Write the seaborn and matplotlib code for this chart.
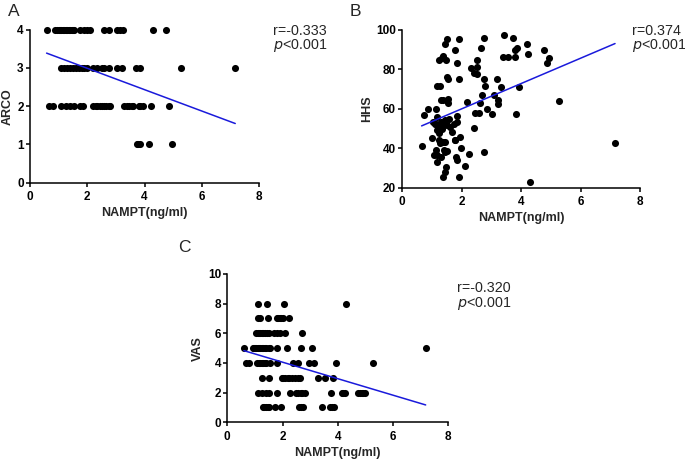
import numpy as np
import pandas as pd
import matplotlib
matplotlib.use("Agg")
import matplotlib.pyplot as plt
import seaborn as sns

# ---------------- data ----------------
# Panel A: ARCO grade vs NAMPT (x values grouped by ARCO row; overlapping dots included)
arco4_x = [0.58, 0.87, 0.95, 1.0, 1.05, 1.1, 1.15, 1.2, 1.25, 1.3, 1.35, 1.4, 1.45, 1.5, 1.55,
           1.75, 1.9, 2.0, 2.1, 2.6, 2.75, 3.03, 3.15, 3.26, 4.28, 4.74]
arco3_x = [1.1, 1.2, 1.3, 1.4, 1.5, 1.6, 1.7, 1.8, 1.9, 2.0, 2.2, 2.35, 2.5, 2.6, 2.75,
           3.05, 3.2, 3.72, 3.85, 5.28, 7.17]
arco2_x = [0.68, 0.82, 1.1, 1.25, 1.4, 1.55, 1.75, 1.85, 2.2, 2.3, 2.35, 2.45, 2.5, 2.6, 2.65,
           2.75, 2.8, 3.3, 3.4, 3.45, 3.55, 3.6, 3.8, 3.85, 3.95, 4.22, 4.87]
arco1_x = [3.73, 3.78, 3.85, 4.16, 4.95]

# Panel B: HHS vs NAMPT
hhs_x = [0.65, 0.74, 0.85, 1.01, 1.14, 1.16, 1.11, 1.18, 1.22, 1.32, 1.38, 1.47, 1.49, 1.44,
         1.27, 1.29, 1.36, 1.53, 1.53, 1.49, 1.53, 1.77, 1.83, 1.90, 1.92, 1.16, 1.18, 1.13,
         1.27, 1.38, 1.44, 1.47, 1.44, 1.36, 1.77, 1.85, 1.91, 1.96, 2.10, 2.26, 2.19, 2.30,
         2.42, 2.50, 2.53, 2.50, 2.42, 2.45, 2.58, 2.61, 2.67, 2.75, 2.64, 2.76, 2.80, 2.84,
         2.75, 3.03, 3.09, 3.18, 3.23, 3.23, 3.31, 3.42, 3.40, 3.57, 3.71, 3.78, 3.79, 3.85,
         3.83, 3.94, 4.19, 4.24, 4.30, 4.77, 4.88, 4.95, 5.27, 7.16,
         1.05, 1.13, 1.16, 1.20, 1.23, 1.29, 1.34, 1.40, 1.45, 1.51, 1.56, 1.62, 1.67, 1.73,
         1.23, 1.34, 1.45, 1.40, 1.49, 1.07, 1.29, 1.78, 1.95, 1.81, 1.85, 1.83]
hhs_y = [41.1, 56.9, 59.9, 45.4, 59.9, 56.0, 52.3, 71.6, 84.8, 85.6, 86.8, 84.8, 95.3, 92.7,
         71.6, 64.5, 64.5, 64.8, 62.8, 76.0, 75.1, 89.9, 83.1, 95.4, 75.1, 32.9, 36.6, 39.1,
         42.5, 43.3, 38.3, 30.7, 28.1, 25.6, 44.2, 34.0, 25.2, 40.3, 31.2, 36.9, 63.6, 80.9,
         78.4, 81.4, 84.8, 77.7, 50.1, 57.7, 58.0, 62.8, 67.0, 96.1, 90.7, 75.1, 71.8, 59.7,
         37.9, 57.4, 67.0, 75.1, 64.5, 62.5, 70.9, 97.5, 86.1, 86.1, 96.1, 86.5, 89.9, 91.0,
         57.4, 70.9, 92.7, 87.7, 22.7, 89.9, 83.1, 85.6, 64.0, 42.5,
         53.4, 52.5, 49.2, 51.7, 47.5, 53.4, 50.0, 51.7, 54.2, 51.7, 55.1, 50.8, 48.3, 52.5,
         44.1, 43.2, 43.2, 39.0, 38.5, 36.4, 35.6, 44.1, 45.8, 35.6, 56.5, 53.5]

# Panel C: VAS score vs NAMPT (x values grouped by VAS row; overlapping dots included)
vas8_x = [1.12, 1.42, 2.05, 4.28]
vas7_x = [1.1, 1.18, 1.48, 1.81, 1.85, 1.9, 1.95, 2.0, 2.23]
vas6_x = [1.05, 1.1, 1.15, 1.2, 1.25, 1.3, 1.35, 1.45, 1.5, 1.7, 1.8, 1.9, 2.1, 2.7]
vas5_x = [0.6, 0.92, 0.95, 1.0, 1.05, 1.1, 1.15, 1.2, 1.25, 1.3, 1.35, 1.4, 1.5, 1.55,
          1.81, 2.17, 2.65, 3.08, 7.18]
vas4_x = [0.68, 0.8, 1.09, 1.15, 1.2, 1.25, 1.3, 1.35, 1.4, 1.55, 1.81, 2.39, 2.57, 2.97,
          3.15, 3.92, 5.26]
vas3_x = [1.24, 1.52, 1.97, 2.0, 2.1, 2.2, 2.25, 2.35, 2.45, 2.55, 2.63, 3.27, 3.53, 3.81]
vas2_x = [1.12, 1.25, 1.4, 1.52, 1.81, 2.27, 2.48, 2.55, 2.65, 2.72, 2.81, 3.74, 4.14, 4.2,
          4.26, 4.74, 4.8, 4.86, 4.92, 4.98]
vas1_x = [1.28, 1.33, 1.4, 1.46, 1.52, 1.72, 1.94, 2.6, 2.65, 2.73, 3.41, 3.72, 3.78, 3.86]

x_ticks = [0, 2, 4, 6, 8]

# ---------------- build frames ----------------
def rows_to_df(rows, ycol):
    xs, ys = [], []
    for val, xl in rows:
        xs += xl
        ys += [val] * len(xl)
    return pd.DataFrame({"NAMPT": xs, ycol: ys})

df_a = rows_to_df([(4, arco4_x), (3, arco3_x), (2, arco2_x), (1, arco1_x)], "ARCO")
df_b = pd.DataFrame({"NAMPT": hhs_x, "HHS": hhs_y})
df_c = rows_to_df([(8, vas8_x), (7, vas7_x), (6, vas6_x), (5, vas5_x), (4, vas4_x),
                   (3, vas3_x), (2, vas2_x), (1, vas1_x)], "VAS")

# ---------------- style ----------------
sns.set_style("ticks")
plt.rcParams["font.family"] = ["Liberation Sans", "DejaVu Sans"]
plt.rcParams["axes.linewidth"] = 1.1
plt.rcParams["xtick.major.width"] = 1.1
plt.rcParams["ytick.major.width"] = 1.1
plt.rcParams["xtick.major.size"] = 3
plt.rcParams["ytick.major.size"] = 3
plt.rcParams["xtick.color"] = "black"
plt.rcParams["ytick.color"] = "black"
plt.rcParams["axes.edgecolor"] = "black"

W, H = 685, 459
fig = plt.figure(figsize=(W / 100, H / 100), dpi=100)

def px_axes(l, r, t, b):
    return fig.add_axes([l / W, 1 - b / H, (r - l) / W, (b - t) / H])

ax_a = px_axes(30, 259, 29.7, 182.7)
ax_b = px_axes(402.3, 640, 30, 187.7)
ax_c = px_axes(227.3, 448.3, 274, 422.3)

panels = [
    (ax_a, df_a, "ARCO", (0, 4), [0, 1, 2, 3, 4]),
    (ax_b, df_b, "HHS", (20, 100), [20, 40, 60, 80, 100]),
    (ax_c, df_c, "VAS", (0, 10), [0, 2, 4, 6, 8, 10]),
]

for ax, df, ycol, ylim, yticks in panels:
    sns.regplot(data=df, x="NAMPT", y=ycol, ax=ax, ci=None, truncate=True,
                scatter_kws=dict(s=26, color="black", linewidths=0, alpha=1, clip_on=False, zorder=3),
                line_kws=dict(color="#1a1adb", lw=1.1, zorder=4))
    ax.set_xlim(0, 8)
    ax.set_ylim(*ylim)
    ax.set_xticks(x_ticks)
    ax.set_yticks(yticks)
    sns.despine(ax=ax)
    for lab in ax.get_xticklabels() + ax.get_yticklabels():
        lab.set_fontweight("bold")
        lab.set_fontsize(8.5)
    ax.tick_params(axis="x", pad=3)
    ax.tick_params(axis="y", pad=1.5)
    ax.set_xlabel("NAMPT(ng/ml)", fontsize=9, fontweight="bold", labelpad=3)
    ax.set_ylabel(ycol, fontsize=9, fontweight="bold", labelpad=2.5)

# panel letters
fig.text(8 / W, 1 - 11 / H, "A", fontsize=12.5, va="center", ha="left")
fig.text(350 / W, 1 - 12 / H, "B", fontsize=12.5, va="center", ha="left")
fig.text(178 / W, 1 - 247 / H, "C", fontsize=12.5, va="center", ha="left")

# annotations
ann = [(273, 31, 46, "r=-0.333"), (632, 31, 46, "r=0.374"), (457, 288, 304, "r=-0.320")]
for x, y1, y2, rtxt in ann:
    fig.text(x / W, 1 - y1 / H, rtxt, fontsize=10.3, va="center", ha="left")
    fig.text(x / W, 1 - y2 / H, r"$\it{p}$<0.001", fontsize=10.3, va="center", ha="left")

fig.savefig("out.png", dpi=100)
